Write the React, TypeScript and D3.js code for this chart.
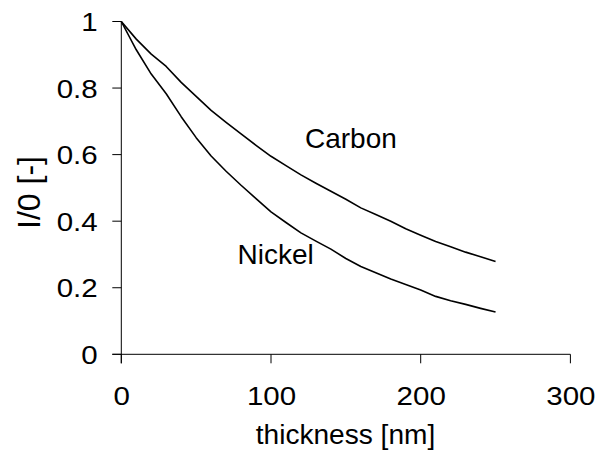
import React from "react";
import * as d3 from "d3";

const thickness = [0, 10, 20, 30, 40, 50, 60, 70, 80, 90, 100, 110, 120, 130, 140, 150, 160, 170, 180, 190, 200, 210, 220, 230, 240, 250];
const carbon = [1.0, 0.947, 0.902, 0.865, 0.817, 0.775, 0.733, 0.697, 0.662, 0.628, 0.595, 0.567, 0.539, 0.514, 0.49, 0.466, 0.44, 0.42, 0.4, 0.377, 0.358, 0.339, 0.323, 0.307, 0.293, 0.279];
const nickel = [1.0, 0.915, 0.842, 0.783, 0.714, 0.651, 0.596, 0.55, 0.508, 0.468, 0.428, 0.396, 0.365, 0.34, 0.316, 0.288, 0.264, 0.245, 0.226, 0.21, 0.193, 0.174, 0.161, 0.15, 0.138, 0.127];
const xTicks = [0, 100, 200, 300];
const yTicks = [0, 0.2, 0.4, 0.6, 0.8, 1];
const yTickLabels = ["0", "0.2", "0.4", "0.6", "0.8", "1"];

const W = 597;
const H = 453;
const FONT = "Arial, 'Liberation Sans', sans-serif";

export default function App() {
  const x = d3.scaleLinear().domain([0, 300]).range([121.3, 570.4]);
  const y = d3.scaleLinear().domain([0, 1]).range([354.3, 21.5]);
  const line = d3
    .line<number>()
    .x((_, i) => x(thickness[i]))
    .y((d) => y(d));

  return (
    <div style={{ position: "absolute", left: 0, top: 0 }}>
      <svg width={W} height={H} style={{ display: "block", background: "#fff" }}>
        <rect x={0} y={0} width={W} height={H} fill="#fff" />
        {/* axes */}
        <line x1={x(0)} x2={x(0)} y1={y(1)} y2={y(0) + 9} stroke="#000" strokeWidth={1} />
        <line x1={x(0) - 9} x2={x(300)} y1={y(0)} y2={y(0)} stroke="#000" strokeWidth={1} />
        {yTicks.map((t, i) => (
          <g key={"y" + i}>
            <line x1={x(0) - 9} x2={x(0)} y1={y(t)} y2={y(t)} stroke="#000" strokeWidth={1} />
            <text
              transform={`translate(97.7,${y(t) + 9.5}) scale(1.18,1)`}
              textAnchor="end"
              fontFamily={FONT}
              fontSize={25}
              fill="#000"
            >
              {yTickLabels[i]}
            </text>
          </g>
        ))}
        {xTicks.map((t, i) => (
          <g key={"x" + i}>
            <line x1={x(t)} x2={x(t)} y1={y(0)} y2={y(0) + 9} stroke="#000" strokeWidth={1} />
            <text
              transform={`translate(${x(t) + 0.5},405) scale(1.18,1)`}
              textAnchor="middle"
              fontFamily={FONT}
              fontSize={25}
              fill="#000"
            >
              {String(t)}
            </text>
          </g>
        ))}
        {/* series */}
        <path d={line(carbon) || ""} fill="none" stroke="#000" strokeWidth={1.6} strokeLinejoin="round" />
        <path d={line(nickel) || ""} fill="none" stroke="#000" strokeWidth={1.6} strokeLinejoin="round" />
        {/* labels */}
        <text x={305} y={148} fontFamily={FONT} fontSize={28} fill="#000">
          Carbon
        </text>
        <text x={237.5} y={263.5} fontFamily={FONT} fontSize={28} fill="#000">
          Nickel
        </text>
        {/* axis titles */}
        <text
          transform={`translate(345.5,444) scale(1.04,1)`}
          textAnchor="middle"
          fontFamily={FONT}
          fontSize={27}
          fill="#000"
        >
          thickness [nm]
        </text>
        <text
          transform={`translate(40,192.5) rotate(-90)`}
          textAnchor="middle"
          fontFamily={FONT}
          fontSize={32}
          fill="#000"
        >
          I/0 [-]
        </text>
      </svg>
    </div>
  );
}
